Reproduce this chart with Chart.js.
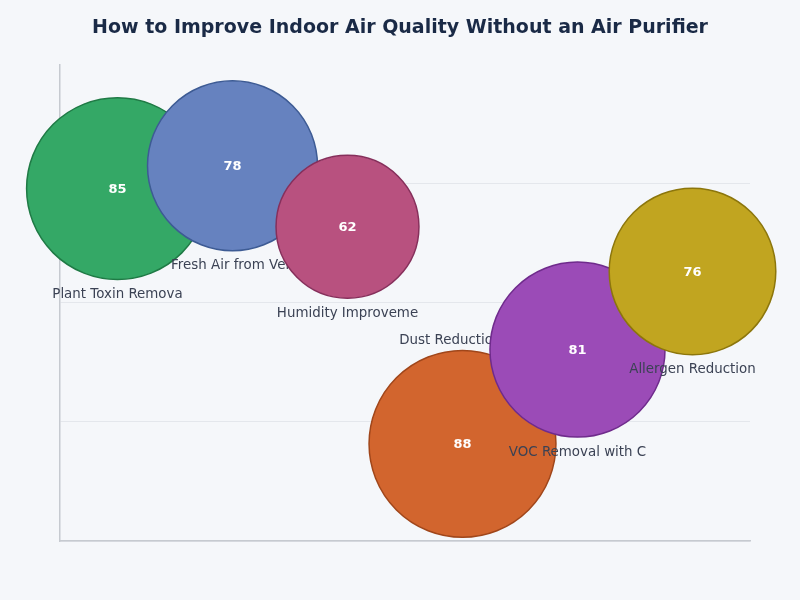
<!DOCTYPE html>
<html>
<head>
<meta charset="utf-8">
<script src="https://cdn.jsdelivr.net/npm/chart.js@4.4.1/dist/chart.umd.min.js"></script>
<style>
  html, body { margin: 0; padding: 0; background: #f5f7fa; }
  #wrap { width: 800px; height: 600px; }
</style>
</head>
<body>
<div id="wrap"><canvas id="airChart" width="800" height="600"></canvas></div>
<script>
// data
const methods = ['Plant Toxin Removal', 'Fresh Air from Ventilation', 'Humidity Improvement', 'Dust Reduction with Damp Cloth', 'VOC Removal with Charcoal', 'Allergen Reduction'];
const positions = [74, 78.8, 66, 20.4, 40.2, 56.6];
const scores = [85, 78, 62, 88, 81, 76];
const fills = ['#34a866', '#6682bf', '#b8517f', '#d2652e', '#9b4bb7', '#c1a520'];
const borders = ['#1f7a45', '#3d5b94', '#862f5b', '#a0461a', '#6f2b8c', '#8c760c'];

// bubble size grows with the score
function radiusFor(score) {
    return 19 + score * 0.846;
}

const datasets = methods.map((name, i) => ({
    label: name,
    data: [{x: i, y: positions[i], r: radiusFor(scores[i]), score: scores[i]}],
    backgroundColor: fills[i],
    borderColor: borders[i],
    borderWidth: 1.5,
    clip: false,
    order: methods.length - i   // later bubbles sit on top
}));

// name under each bubble (above if no room), score in the middle
const bubbleText = {
    id: 'bubbleText',
    afterDatasetDraw(chart, args) {
        const ctx = chart.ctx;
        const meta = args.meta;
        const area = chart.chartArea;
        meta.data.forEach((pt, j) => {
            const raw = chart.data.datasets[args.index].data[j];
            const r = pt.options.radius;
            let name = chart.data.datasets[args.index].label;
            if (name.length > 18) name = name.substring(0, 18);
            ctx.save();
            ctx.textAlign = 'center';
            ctx.textBaseline = 'middle';
            ctx.font = '13.4px "DejaVu Sans"';
            ctx.fillStyle = '#3b4254';
            let ly = pt.y + r + 15;
            if (ly > area.bottom) ly = pt.y - r - 10;
            ctx.fillText(name, pt.x, ly);
            ctx.font = 'bold 13px "DejaVu Sans"';
            ctx.fillStyle = '#ffffff';
            ctx.fillText(raw.score, pt.x, pt.y + 1);
            ctx.restore();
        });
    }
};

new Chart(document.getElementById('airChart').getContext('2d'), {
    type: 'bubble',
    data: { datasets: datasets },
    plugins: [bubbleText],
    options: {
        responsive: false,
        animation: false,
        layout: { autoPadding: false, padding: { left: 50, right: 50, top: 0, bottom: 51 } },
        plugins: {
            legend: { display: false },
            tooltip: { enabled: false },
            title: {
                display: true,
                text: 'How to Improve Indoor Air Quality Without an Air Purifier',
                color: '#1a2a46',
                font: { family: 'DejaVu Sans', size: 19, weight: 'bold' },
                padding: { top: 17, bottom: 25 }
            }
        },
        scales: {
            x: {
                min: -0.5,
                max: 5.5,
                ticks: { display: false },
                grid: { display: false },
                border: { display: true, color: '#c6cad0', width: 1.5 }
            },
            y: {
                min: 0,
                max: 100,
                afterFit: s => { s.width = 10; },
                ticks: { display: false, stepSize: 25 },
                grid: {
                    drawTicks: false,
                    color: c => (c.tick && c.tick.value === 100) ? 'rgba(0,0,0,0)' : '#e4e7ec'
                },
                border: { display: true, color: '#c6cad0', width: 1.5 }
            }
        }
    }
});
</script>
</body>
</html>
